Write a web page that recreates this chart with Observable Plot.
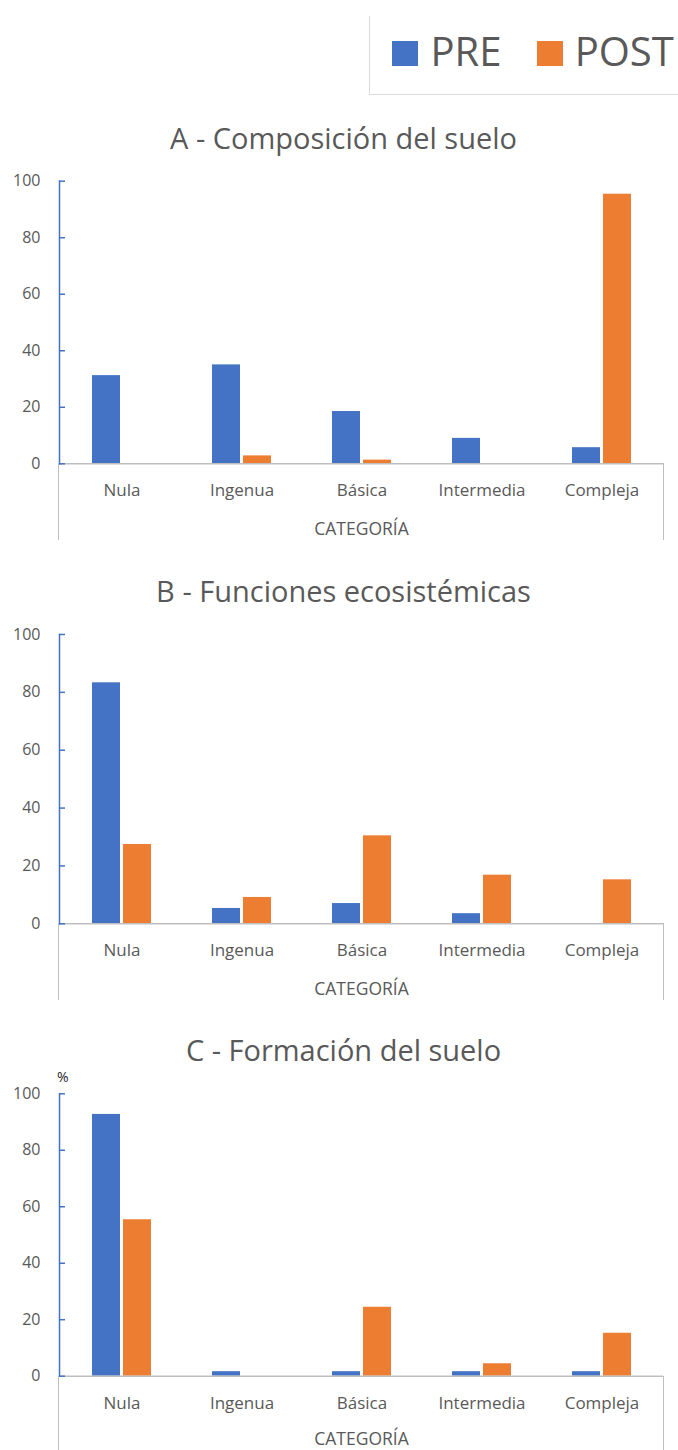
<!DOCTYPE html>
<html>
<head>
<meta charset="utf-8">
<script src="https://cdn.jsdelivr.net/npm/d3@7"></script>
<script src="https://cdn.jsdelivr.net/npm/@observablehq/plot@0.6"></script>
<style>
  html, body { margin: 0; padding: 0; background: #fff; }
  #root { position: relative; width: 678px; height: 1450px; overflow: hidden; font-family: "Open Sans", sans-serif; color: #595959; }
  .abs { position: absolute; }
  .legend-text { font-size: 40px; line-height: 40px; white-space: nowrap; }
</style>
</head>
<body>
<div id="root"></div>
<script>
// ---- data ----
const categories = ["Nula", "Ingenua", "Básica", "Intermedia", "Compleja"];
const series = ["PRE", "POST"];
const seriesColors = ["#4472C4", "#ED7D31"];
const panelTitles = ["A - Composición del suelo", "B - Funciones ecosistémicas", "C - Formación del suelo"];
const preA  = [31.2, 35.0, 18.5, 9.0, 5.7];
const postA = [0, 2.8, 1.3, 0, 95.4];
const preB  = [83.3, 5.3, 7.0, 3.5, 0];
const postB = [27.4, 9.1, 30.4, 16.8, 15.2];
const preC  = [92.7, 1.6, 1.6, 1.6, 1.6];
const postC = [55.4, 0, 24.4, 4.4, 15.2];
const yTicks = [0, 20, 40, 60, 80, 100];
const xAxisLabel = "CATEGORÍA";
const yUnitLabel = "%";

// ---- layout ----
const W = 678;
const mLeft = 59, mRight = 15, boxDepth = 77;
const panels = [
  {title: panelTitles[0], pre: preA, post: postA, top: 110, y100: 180.7, y0: 463.3, unit: false, labelDy: 71.5},
  {title: panelTitles[1], pre: preB, post: postB, top: 563, y100: 634.0, y0: 923.3, unit: false, labelDy: 71.5},
  {title: panelTitles[2], pre: preC, post: postC, top: 1022, y100: 1093.3, y0: 1375.7, unit: true, labelDy: 68.5}
];
const root = document.getElementById("root");
const gray = "#BFBFBF";
const textColor = "#595959";

// ---- legend ----
const legendBox = document.createElement("div");
legendBox.className = "abs";
Object.assign(legendBox.style, {left: "369px", top: "16px", width: "320px", height: "79px",
  borderLeft: "1px solid #d9d9d9", borderBottom: "1px solid #d9d9d9", boxSizing: "border-box"});
root.appendChild(legendBox);
const legendX = [[391.5, 430.4], [536.5, 574.7]];
series.forEach((s, i) => {
  const sw = document.createElement("div");
  sw.className = "abs";
  Object.assign(sw.style, {left: legendX[i][0] + "px", top: "40.5px", width: "26px", height: "25.5px", background: seriesColors[i]});
  root.appendChild(sw);
  const t = document.createElement("div");
  t.className = "abs legend-text";
  t.textContent = s;
  Object.assign(t.style, {left: legendX[i][1] + "px", top: "30.5px"});
  root.appendChild(t);
});

// ---- panels ----
for (const p of panels) {
  const rows = categories.map((c, i) => ({cat: c, PRE: p.pre[i], POST: p.post[i]}));
  const marginTop = p.y100 - p.top;
  const innerH = p.y0 - p.y100;
  const height = marginTop + innerH + boxDepth;
  const marks = [
    Plot.barY(rows.filter(d => d.PRE > 0), {x: "cat", y: "PRE", fill: seriesColors[0], insetLeft: 0, insetRight: 31}),
    Plot.barY(rows.filter(d => d.POST > 0), {x: "cat", y: "POST", fill: seriesColors[1], insetLeft: 31, insetRight: 0}),
    Plot.ruleY([0], {stroke: gray, strokeWidth: 1.5}),
    Plot.frame({anchor: "left", stroke: seriesColors[0], strokeWidth: 1.5}),
    Plot.axisY({ticks: yTicks, tickSize: -6, stroke: seriesColors[0], strokeWidth: 1.5, tickFormat: () => "", label: null}),
    Plot.axisY({ticks: yTicks, tickSize: 0, tickPadding: 19, fontSize: 16, fill: textColor, label: null}),
    Plot.axisX({tickSize: 0, tickPadding: 20.4, fontSize: 17, fill: textColor, label: null}),
    Plot.text([xAxisLabel], {frameAnchor: "bottom", lineAnchor: "bottom", dy: p.labelDy, fontSize: 17.5, fill: textColor}),
    Plot.text([p.title], {frameAnchor: "top", lineAnchor: "bottom", dy: -32.3, dx: -18, fontSize: 29, fill: textColor})
  ];
  if (p.unit) {
    marks.push(Plot.text([yUnitLabel], {frameAnchor: "top-left", textAnchor: "start", lineAnchor: "bottom", dy: -11.6, dx: -2.5, fontSize: 14, fill: "#262626"}));
  }
  const chart = Plot.plot({
    width: W,
    height,
    marginLeft: mLeft,
    marginRight: mRight,
    marginTop,
    marginBottom: boxDepth,
    style: {fontFamily: "Open Sans", fontSize: "16px", color: textColor, background: "transparent", overflow: "visible"},
    x: {domain: categories, paddingInner: 0.512, paddingOuter: 0.256, label: null, axis: null},
    y: {domain: [0, 100], label: null, axis: null},
    marks
  });
  chart.classList.add("abs");
  chart.style.left = "0px";
  chart.style.top = p.top + "px";
  root.appendChild(chart);

  // box lines below the category axis
  const box = document.createElement("div");
  box.className = "abs";
  Object.assign(box.style, {left: "57.5px", top: p.y0 + "px", width: (W - mRight - 57.5 + 0.8) + "px", height: boxDepth + "px",
    borderLeft: "1.5px solid " + gray, borderRight: "1.5px solid " + gray, boxSizing: "border-box"});
  root.appendChild(box);
}
</script>
</body>
</html>
